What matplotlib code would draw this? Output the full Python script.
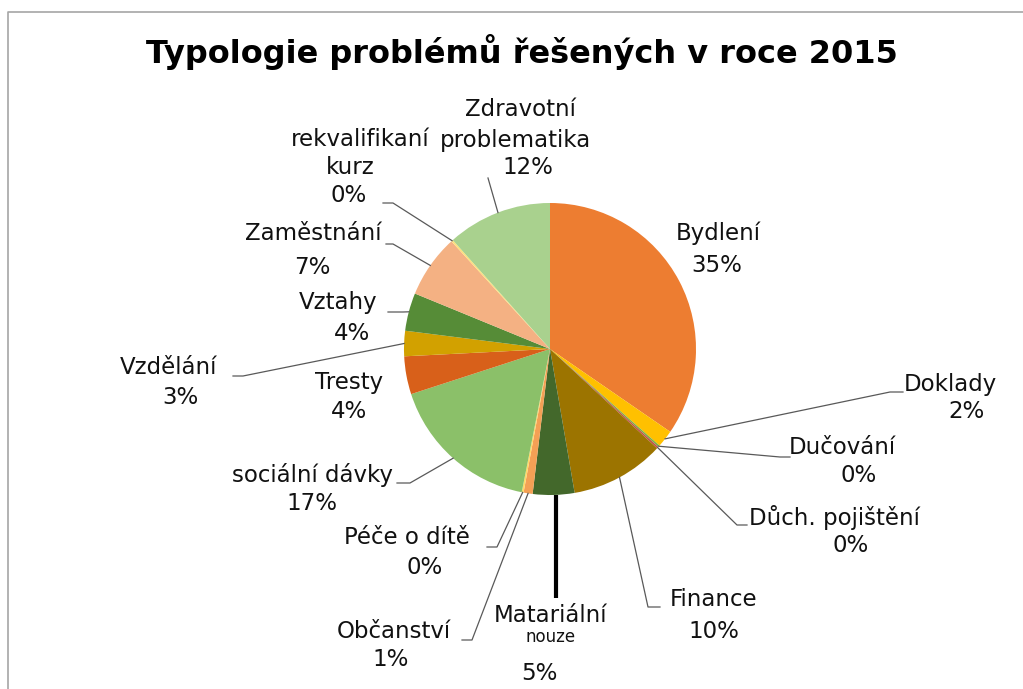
import matplotlib
matplotlib.use("Agg")
import matplotlib.pyplot as plt
import numpy as np

# ---------------- data ----------------
categories = ["Bydlení", "Doklady", "Dučování", "Důch. pojištění", "Finance",
              "Matariální nouze", "Občanství", "Péče o dítě", "sociální dávky",
              "Tresty", "Vzdělání", "Vztahy", "Zaměstnání",
              "rekvalifikaní kurz", "Zdravotní problematika"]
values = [34.6, 1.9, 0.2, 0.2, 10.4, 4.6, 1.0, 0.2, 16.9, 4.2, 2.8, 4.2, 7.0, 0.2, 11.6]
colors = ["#ED7D31", "#FFC000", "#7FAF45", "#C0504D", "#9C7400",
          "#43682B", "#F4A055", "#FFD966", "#8BC069",
          "#D8601A", "#D2A100", "#568C37", "#F4B183",
          "#FFE07A", "#A9D18E"]
title = "Typologie problémů řešených v roce 2015"

# ---------------- layout (pixel coords) ----------------
W, H = 1023, 689
cx, cy, R = 550, 349, 146
FS = 16.5
# display lines of each name: (text, x, y, fontsize)
name_lines = {
    "Bydlení": [("Bydlení", 718, 233, FS)],
    "Doklady": [("Doklady", 950, 384, FS)],
    "Dučování": [("Dučování", 842, 447, FS)],
    "Důch. pojištění": [("Důch. pojištění", 834, 517, FS)],
    "Finance": [("Finance", 714, 599, FS)],
    "Matariální nouze": [("Matariální", 551, 615, FS), ("nouze", 551, 637, 12)],
    "Občanství": [("Občanství", 394, 631, FS)],
    "Péče o dítě": [("Péče o dítě", 407, 538, FS)],
    "sociální dávky": [("sociální dávky", 312, 475, FS)],
    "Tresty": [("Tresty", 349, 383, FS)],
    "Vzdělání": [("Vzdělání", 168, 367, FS)],
    "Vztahy": [("Vztahy", 338, 303, FS)],
    "Zaměstnání": [("Zaměstnání", 313, 233, FS)],
    "rekvalifikaní kurz": [("rekvalifikaní", 360, 140, FS), ("kurz", 350, 168, FS)],
    "Zdravotní problematika": [("Zdravotní", 520, 110, FS), ("problematika", 516, 140, FS)],
}
pct_pos = {
    "Bydlení": (717, 266), "Doklady": (967, 412), "Dučování": (859, 475),
    "Důch. pojištění": (851, 545), "Finance": (714, 632), "Matariální nouze": (539, 673),
    "Občanství": (391, 660), "Péče o dítě": (425, 567), "sociální dávky": (312, 503),
    "Tresty": (349, 411), "Vzdělání": (180, 397), "Vztahy": (352, 333),
    "Zaměstnání": (312, 267), "rekvalifikaní kurz": (349, 196),
    "Zdravotní problematika": (528, 167),
}
# leader lines: (elbow_x, elbow_y, end_x or None)
leaders = {
    "Doklady": (890, 392, 903),
    "Dučování": (780, 457, 790),
    "Důch. pojištění": (737, 525, 747),
    "Finance": (648, 607, 660),
    "Občanství": (472, 640, 462),
    "Péče o dítě": (497, 547, 487),
    "sociální dávky": (410, 483, 397),
    "Vzdělání": (243, 376, 233),
    "Vztahy": (403, 312, 388),
    "Zaměstnání": (393, 244, 386),
    "rekvalifikaní kurz": (393, 203, 383),
    "Zdravotní problematika": (488, 178, None),
}

fig = plt.figure(figsize=(W / 100, H / 100), dpi=100)
ax = fig.add_axes([0, 0, 1, 1])
ax.set_xlim(0, W)
ax.set_ylim(H, 0)
ax.set_aspect("equal")
ax.axis("off")

# frame
ax.plot([8, 8, W + 5], [H + 5, 12, 12], color="#A6A6A6", lw=1.2, solid_capstyle="butt")

wedges, _ = ax.pie(values, colors=colors, startangle=-90, counterclock=True,
                   center=(cx, cy), radius=R, wedgeprops=dict(linewidth=0))
ax.set_xlim(0, W)
ax.set_ylim(H, 0)

total = sum(values)
for cat, v, w in zip(categories, values, wedges):
    for txt, x, y, fs in name_lines[cat]:
        ax.text(x, y, txt, ha="center", va="center", fontsize=fs, color="#111111")
    px, py = pct_pos[cat]
    ax.text(px, py, f"{v / total * 100:.0f}%", ha="center", va="center",
            fontsize=FS, color="#111111")
    th = np.deg2rad((w.theta1 + w.theta2) / 2)
    ex, ey = cx + R * np.cos(th), cy + R * np.sin(th)
    if cat in leaders:
        bx, by, endx = leaders[cat]
        xs, ys = [ex, bx], [ey, by]
        if endx is not None:
            xs.append(endx)
            ys.append(by)
        ax.plot(xs, ys, color="#595959", lw=0.9)
    if cat == "Matariální nouze":
        ax.plot([ex + 2, ex + 2], [ey, 598], color="black", lw=3, solid_capstyle="butt")

ax.text(522, 52, title, ha="center", va="center", fontsize=23, fontweight="bold",
        color="black")

fig.savefig("out.png", dpi=100)
